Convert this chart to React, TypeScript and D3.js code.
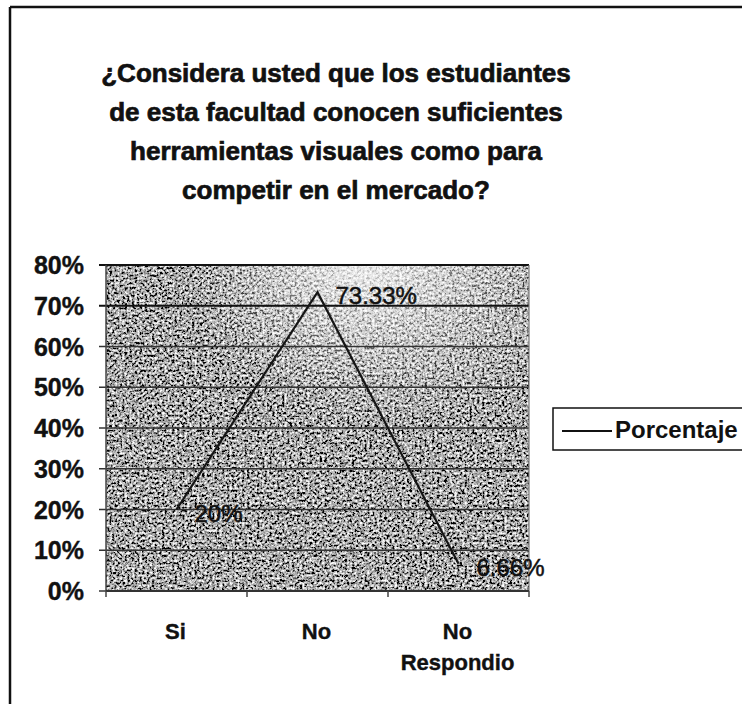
import React from "react";
import * as d3 from "d3";

const titleLines = [
  "¿Considera usted que los estudiantes",
  "de esta facultad conocen suficientes",
  "herramientas visuales como para",
  "competir en el mercado?",
];
const categories = ["Si", "No", "No Respondio"];
const porcentaje = [20, 73.33, 6.66];
const dataLabels = ["20%", "73.33%", "6.66%"];
const yTicks = [0, 10, 20, 30, 40, 50, 60, 70, 80];
const seriesName = "Porcentaje";

const W = 742;
const H = 704;
const plot = { left: 106, right: 529, top: 265, bottom: 591 };
const FONT = "'Liberation Sans', Arial, Helvetica, sans-serif";

export default function App() {
  const x = d3
    .scaleBand<string>()
    .domain(categories)
    .range([plot.left, plot.right])
    .padding(0);
  const y = d3.scaleLinear().domain([0, 80]).range([plot.bottom, plot.top]);
  const cx = (c: string) => (x(c) as number) + x.bandwidth() / 2;

  const pts: [number, number][] = categories.map((c, i) => [cx(c), y(porcentaje[i])]);
  const line = d3.line<[number, number]>()(pts) || "";

  const pw = plot.right - plot.left;
  const ph = plot.bottom - plot.top;

  return (
    <svg
      width={W}
      height={H}
      viewBox={`0 0 ${W} ${H}`}
      style={{ position: "absolute", left: 0, top: 0, display: "block", background: "#fff" }}
    >
      <defs>
        <filter
          id="grain"
          filterUnits="userSpaceOnUse"
          x={plot.left}
          y={plot.top}
          width={pw}
          height={ph}
        >
          <feTurbulence type="fractalNoise" baseFrequency="0.4" numOctaves={3} seed={11} result="n" />
          <feColorMatrix
            in="n"
            type="matrix"
            values="2.3 0 0 0 -0.76  2.3 0 0 0 -0.76  2.3 0 0 0 -0.76  0 0 0 0 1"
          />
        </filter>
        <radialGradient id="wash" cx="0.66" cy="0.02" r="0.48" fx="0.6" fy="0.0">
          <stop offset="0" stopColor="#fff" stopOpacity={0.8} />
          <stop offset="0.45" stopColor="#fff" stopOpacity={0.42} />
          <stop offset="1" stopColor="#fff" stopOpacity={0} />
        </radialGradient>
      </defs>

      {/* outer frame */}
      <line x1={10} y1={7} x2={W} y2={7} stroke="#111" strokeWidth={2.5} />
      <line x1={10} y1={7} x2={10} y2={H} stroke="#111" strokeWidth={2.5} />

      {/* title */}
      <g
        fontFamily={FONT}
        fontWeight="bold"
        fontSize={26}
        fill="#111"
        stroke="#111"
        strokeWidth={0.7}
        textAnchor="middle"
      >
        {titleLines.map((t, i) => (
          <text key={i} x={336} y={82 + i * 39}>
            {t}
          </text>
        ))}
      </g>

      {/* plot area */}
      <rect x={plot.left} y={plot.top} width={pw} height={ph} fill="#6a6a6a" filter="url(#grain)" />
      <rect x={plot.left} y={plot.top} width={pw} height={ph} fill="url(#wash)" />

      {/* gridlines */}
      {yTicks.map((t) => (
        <line
          key={t}
          x1={plot.left - 7}
          x2={plot.right}
          y1={y(t)}
          y2={y(t)}
          stroke={t >= 70 ? "#111" : "#333"}
          strokeWidth={t >= 70 ? 2 : 1.6}
        />
      ))}
      {/* axes */}
      <line x1={plot.left} x2={plot.left} y1={plot.top} y2={plot.bottom} stroke="#444" strokeWidth={1.5} />
      <line x1={plot.right} x2={plot.right} y1={plot.top} y2={plot.bottom} stroke="#777" strokeWidth={1.2} />
      <line x1={plot.left} x2={plot.right} y1={plot.bottom} y2={plot.bottom} stroke="#333" strokeWidth={1.8} />
      {categories.map((c) => (
        <line
          key={c}
          x1={x(c) as number}
          x2={x(c) as number}
          y1={plot.bottom}
          y2={plot.bottom + 6}
          stroke="#444"
          strokeWidth={1.5}
        />
      ))}
      <line x1={plot.right} x2={plot.right} y1={plot.bottom} y2={plot.bottom + 6} stroke="#444" strokeWidth={1.5} />

      {/* y labels */}
      <g
        fontFamily={FONT}
        fontWeight="bold"
        fontSize={25}
        fill="#111"
        stroke="#111"
        strokeWidth={0.4}
        textAnchor="end"
      >
        {yTicks.map((t) => (
          <text key={t} x={84} y={y(t) + 9}>
            {t}%
          </text>
        ))}
      </g>

      {/* x labels */}
      <g
        fontFamily={FONT}
        fontWeight="bold"
        fontSize={22}
        fill="#111"
        stroke="#111"
        strokeWidth={0.4}
        textAnchor="middle"
      >
        {categories.map((c) => {
          const parts = c === "No Respondio" ? ["No", "Respondio"] : [c];
          return parts.map((p, j) => (
            <text key={c + j} x={cx(c) - 1} y={639 + j * 31}>
              {p}
            </text>
          ));
        })}
      </g>

      {/* series line */}
      <path d={line} fill="none" stroke="#151515" strokeWidth={2.2} />

      {/* data labels */}
      <g fontFamily={FONT} fontSize={24} fill="#111" stroke="#111" strokeWidth={0.5}>
        {pts.map((p, i) => (
          <text key={i} x={p[0] + 18} y={p[1] + 12}>
            {dataLabels[i]}
          </text>
        ))}
      </g>

      {/* legend */}
      <rect x={553} y={408} width={W} height={42} fill="#fff" stroke="#111" strokeWidth={1.5} />
      <line x1={562} x2={612} y1={431} y2={431} stroke="#111" strokeWidth={2} />
      <text
        x={615}
        y={438}
        fontFamily={FONT}
        fontSize={24}
        fontWeight="bold"
        fill="#111"
      >
        {seriesName}
      </text>
    </svg>
  );
}
